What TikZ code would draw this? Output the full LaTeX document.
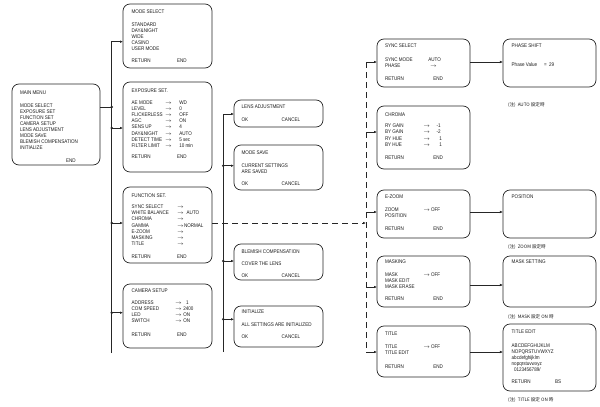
\documentclass[tikz,border=0pt]{standalone}
\usepackage{fontspec}
\newfontfamily\menufont[FakeStretch=0.86]{Liberation Sans}
\newfontfamily\jpfont{Noto Sans CJK JP}
\usetikzlibrary{arrows.meta}
\newcounter{tn}
\newcommand\mt[3]{\stepcounter{tn}\node[txt] (t\arabic{tn}) at (#1,#2) {#3};}
\newcommand\mnote[3]{\stepcounter{tn}\node[note] (t\arabic{tn}) at (#1,#2) {#3};}
\newcommand\ra{$\rightarrow$}
\begin{document}
\begin{tikzpicture}[x=1pt,y=-1pt,
  box/.style={draw=black!85, line width=0.7pt, rounded corners=7pt, inner sep=0pt, outer sep=0pt, anchor=north west},
  txt/.style={anchor=base west, inner sep=0pt, outer sep=0pt, text=black!90, font=\menufont\fontsize{5.3}{6}\selectfont},
  note/.style={anchor=base west, inner sep=0pt, outer sep=0pt, text=black!90, font=\jpfont\fontsize{4.6}{6}\selectfont},
  ln/.style={line width=0.7pt, draw=black!85},
  arr/.style={ln, -{Latex[length=3pt,width=2.6pt]}},
  harr/.style={line width=1pt, draw=black!85, -{Latex[length=3.2pt,width=2.8pt]}},
  dsh/.style={line width=0.8pt, draw=black!85, dash pattern=on 6pt off 4pt},
  dotn/.style={circle, fill=black!85, inner sep=0pt, minimum size=2.8pt}]
\useasboundingbox (0,0) rectangle (600,407);

% ---------- boxes ----------
\node[box, minimum width=88pt, minimum height=81pt] (main) at (12,84) {};
\node[box, minimum width=89pt, minimum height=64pt] (msel) at (123,4) {};
\node[box, minimum width=89pt, minimum height=90pt] (exp) at (123,82) {};
\node[box, minimum width=89pt, minimum height=76pt] (func) at (123,187) {};
\node[box, minimum width=89pt, minimum height=64pt] (cam) at (123,284) {};
\node[box, minimum width=89pt, minimum height=27pt] (lens) at (234,100) {};
\node[box, minimum width=89pt, minimum height=45pt] (msave) at (234,145) {};
\node[box, minimum width=89pt, minimum height=36pt] (blem) at (234,244) {};
\node[box, minimum width=89pt, minimum height=41pt] (init) at (234,306) {};
\node[box, minimum width=93pt, minimum height=48pt] (sync) at (377,39) {};
\node[box, minimum width=93pt, minimum height=48pt] (phase) at (503,39) {};
\node[box, minimum width=93pt, minimum height=63pt] (chroma) at (377,106) {};
\node[box, minimum width=93pt, minimum height=48pt] (ezoom) at (377,190) {};
\node[box, minimum width=93pt, minimum height=48pt] (pos) at (503,190) {};
\node[box, minimum width=93pt, minimum height=51pt] (mask) at (377,256) {};
\node[box, minimum width=93pt, minimum height=51pt] (mset) at (503,256) {};
\node[box, minimum width=93pt, minimum height=51pt] (title) at (377,326) {};
\node[box, minimum width=93pt, minimum height=67pt] (tedit) at (503,324) {};

% ---------- MAIN MENU ----------
\mt{20}{94}{MAIN MENU}
\mt{20}{107}{MODE SELECT}
\mt{20}{113.1}{EXPOSURE SET}
\mt{20}{119.2}{FUNCTION SET}
\mt{20}{125.3}{CAMERA SETUP}
\mt{20}{131.4}{LENS ADJUSTMENT}
\mt{20}{137.5}{MODE SAVE}
\mt{20}{143.6}{BLEMISH COMPENSATION}
\mt{20}{149.7}{INITIALIZE}
\mt{66}{162}{END}

% ---------- MODE SELECT ----------
\mt{131.7}{13}{MODE SELECT}
\mt{131.7}{26}{STANDARD}
\mt{131.7}{32.1}{DAY\&NIGHT}
\mt{131.7}{38.2}{WIDE}
\mt{131.7}{44.3}{CASINO}
\mt{131.7}{50.4}{USER MODE}
\mt{131.7}{62.7}{RETURN}
\mt{177}{62.7}{END}

% ---------- EXPOSURE SET ----------
\mt{131.7}{92}{EXPOSURE SET.}
\mt{131.7}{104}{AE MODE}      \mt{165}{104}{\ra}   \mt{179.3}{104}{WD}
\mt{131.7}{110.2}{LEVEL}      \mt{165}{110.2}{\ra} \mt{179.3}{110.2}{0}
\mt{131.7}{116.4}{FLICKERLESS}\mt{165}{116.4}{\ra} \mt{179.3}{116.4}{OFF}
\mt{131.7}{122.6}{AGC}        \mt{165}{122.6}{\ra} \mt{179.3}{122.6}{ON}
\mt{131.7}{128.8}{SENS UP}    \mt{165}{128.8}{\ra} \mt{179.3}{128.8}{4}
\mt{131.7}{135}{DAY\&NIGHT}   \mt{165}{135}{\ra}   \mt{179.3}{135}{AUTO}
\mt{131.7}{141.2}{DETECT TIME}\mt{165}{141.2}{\ra} \mt{179.3}{141.2}{5 sec}
\mt{131.7}{147.4}{FILTER LIMIT}\mt{165}{147.4}{\ra}\mt{179.3}{147.4}{10 min}
\mt{131.7}{158.7}{RETURN}
\mt{177}{158.7}{END}

% ---------- FUNCTION SET ----------
\mt{131.7}{197}{FUNCTION SET.}
\mt{131.7}{208.7}{SYNC SELECT}   \mt{177}{208.7}{\ra}
\mt{131.7}{214.8}{WHITE BALANCE} \mt{177}{214.8}{\ra} \mt{186.7}{214.8}{AUTO}
\mt{131.7}{220.9}{CHROMA}        \mt{177}{220.9}{\ra}
\mt{131.7}{227}{GAMMA}           \mt{177}{227}{\ra}   \mt{184}{227}{NORMAL}
\mt{131.7}{233.1}{E-ZOOM}        \mt{177}{233.1}{\ra}
\mt{131.7}{239.2}{MASKING}       \mt{177}{239.2}{\ra}
\mt{131.7}{245.3}{TITLE}         \mt{177}{245.3}{\ra}
\mt{131.7}{258.7}{RETURN}
\mt{177}{258.7}{END}

% ---------- CAMERA SETUP ----------
\mt{131.7}{292.7}{CAMERA SETUP}
\mt{131.7}{304.7}{ADDRESS}   \mt{175}{304.7}{\ra} \mt{186}{304.7}{1}
\mt{131.7}{310.6}{COM SPEED} \mt{175}{310.6}{\ra} \mt{183.3}{310.6}{2400}
\mt{131.7}{316.5}{LED}       \mt{175}{316.5}{\ra} \mt{183.3}{316.5}{ON}
\mt{131.7}{322.4}{SWITCH}    \mt{175}{322.4}{\ra} \mt{183.3}{322.4}{ON}
\mt{131.7}{336.4}{RETURN}
\mt{177}{336.4}{END}

% ---------- LENS / MODE SAVE / BLEMISH / INITIALIZE ----------
\mt{241.7}{108}{LENS ADJUSTMENT}
\mt{241.7}{121.4}{OK} \mt{281.7}{121.4}{CANCEL}
\mt{241.7}{154.7}{MODE SAVE}
\mt{241.7}{167}{CURRENT SETTINGS}
\mt{241.7}{173}{ARE SAVED}
\mt{241.7}{185.4}{OK} \mt{281.7}{185.4}{CANCEL}
\mt{241.7}{253}{BLEMISH COMPENSATION}
\mt{241.7}{265.4}{COVER THE LENS}
\mt{241.7}{277}{OK} \mt{281.7}{277}{CANCEL}
\mt{241.7}{313.7}{INITIALIZE}
\mt{241.7}{326.4}{ALL SETTINGS ARE INITIALIZED}
\mt{241.7}{338}{OK} \mt{281.7}{338}{CANCEL}

% ---------- SYNC SELECT / PHASE SHIFT ----------
\mt{385}{47.7}{SYNC SELECT}
\mt{385}{61}{SYNC MODE} \mt{428.3}{61}{AUTO}
\mt{385}{67}{PHASE}     \mt{430}{67}{\ra}
\mt{385}{80.4}{RETURN}  \mt{433.3}{80.4}{END}
\mt{511.7}{47.7}{PHASE SHIFT}
\mt{511.7}{66.4}{Phase Value} \mt{544}{66.4}{=} \mt{549}{66.4}{29}
\mnote{508}{106}{(注)\ \ AUTO 設定時}

% ---------- CHROMA ----------
\mt{385}{116.4}{CHROMA}
\mt{385}{127.7}{RY GAIN} \mt{423.3}{127.7}{\ra} \mt{436.7}{127.7}{-1}
\mt{385}{133.9}{BY GAIN} \mt{423.3}{133.9}{\ra} \mt{436.7}{133.9}{-2}
\mt{385}{140.1}{RY HUE}  \mt{423.3}{140.1}{\ra} \mt{439.3}{140.1}{1}
\mt{385}{146.3}{BY HUE}  \mt{423.3}{146.3}{\ra} \mt{439.3}{146.3}{1}
\mt{385}{159.7}{RETURN}  \mt{433.3}{159.7}{END}

% ---------- E-ZOOM / POSITION ----------
\mt{385}{198.7}{E-ZOOM}
\mt{385}{211.4}{ZOOM} \mt{423.3}{211.4}{\ra} \mt{431}{211.4}{OFF}
\mt{385}{217.5}{POSITION}
\mt{385}{230.4}{RETURN} \mt{433.3}{230.4}{END}
\mt{511.7}{198.7}{POSITION}
\mnote{508}{248}{(注)\ \ ZOOM 設定時}

% ---------- MASKING / MASK SETTING ----------
\mt{385}{263.7}{MASKING}
\mt{385}{276.4}{MASK} \mt{423.3}{276.4}{\ra} \mt{431}{276.4}{OFF}
\mt{385}{282.5}{MASK EDIT}
\mt{385}{288.6}{MASK ERASE}
\mt{385}{300.4}{RETURN} \mt{433.3}{300.4}{END}
\mt{511.7}{263.7}{MASK SETTING}
\mnote{508}{318.5}{(注)\ \ MASK 設定 ON 時}

% ---------- TITLE / TITLE EDIT ----------
\mt{385}{335}{TITLE}
\mt{385}{348}{TITLE} \mt{423.3}{348}{\ra} \mt{431}{348}{OFF}
\mt{385}{354}{TITLE EDIT}
\mt{385}{368.7}{RETURN} \mt{433.3}{368.7}{END}
\mt{511.7}{333.7}{TITLE EDIT}
\mt{511.7}{347}{ABCDEFGHIJKLM}
\mt{511.7}{353}{NOPQRSTUVWXYZ}
\mt{511.7}{359}{abcdefghijklm}
\mt{511.7}{365}{nopqrstuvwxyz}
\mt{514}{371}{0123456789/}
\mt{511.7}{383.7}{RETURN} \mt{555}{383.7}{BS}
\mnote{508}{401}{(注)\ \ TITLE 設定 ON 時}

% ---------- connectors: first column ----------
\coordinate (v1top) at (111.7,41.7);
\coordinate (v1bot) at (111.7,353);
\draw[arr] (v1bot) -- (v1top) -- (v1top -| msel.west);
\coordinate (j0) at (111.7,107);
\draw[ln] (j0 -| main.east) -- (j0);
\node[dotn] (d0) at (j0) {};
\coordinate (j1) at (111.7,128);
\draw[arr] (j1) -- (j1 -| exp.west);
\node[dotn] (d1) at (j1) {};
\coordinate (j2) at (111.7,223);
\draw[arr] (j2) -- (j2 -| func.west);
\node[dotn] (d2) at (j2) {};
\coordinate (j3) at (111.7,312.7);
\draw[arr] (j3) -- (j3 -| cam.west);
\node[dotn] (d3) at (j3) {};

% ---------- connectors: second column ----------
\coordinate (v2top) at (223.3,114);
\coordinate (v2bot) at (223.3,352);
\draw[arr] (v2bot) -- (v2top) -- (v2top -| lens.west);
\coordinate (k1) at (223.3,165.7);
\draw[arr] (k1) -- (k1 -| msave.west);
\node[dotn] (e1) at (k1) {};
\coordinate (k2) at (223.3,261);
\draw[arr] (k2) -- (k2 -| blem.west);
\node[dotn] (e2) at (k2) {};
\coordinate (k3) at (223.3,319.3);
\draw[arr] (k3) -- (k3 -| init.west);
\node[dotn] (e3) at (k3) {};

% ---------- dashed link to function sub-menus ----------
\coordinate (fd) at (366,223);
\draw[dsh, -{Latex[length=3pt,width=2.6pt]}] (fd -| func.east) -- (fd);
\coordinate (v3top) at (366,62);
\coordinate (v3bot) at (366,352);
\draw[dsh] (v3top) -- (v3bot);
\coordinate (m1) at (366,62);
\coordinate (m2) at (366,132);
\coordinate (m3) at (366,212);
\coordinate (m4) at (366,287);
\coordinate (m5) at (366,352);
\draw[arr] (m1) -- (m1 -| sync.west);
\draw[arr] (m2) -- (m2 -| chroma.west);
\draw[arr] (m3) -- (m3 -| ezoom.west);
\draw[arr] (m4) -- (m4 -| mask.west);
\draw[arr] (m5) -- (m5 -| title.west);

% ---------- right column arrows ----------
\coordinate (r1) at (486,62);
\coordinate (r2) at (486,212);
\coordinate (r3) at (486,285);
\coordinate (r4) at (486,352);
\draw[harr] (r1 -| sync.east) -- (r1 -| phase.west);
\draw[harr] (r2 -| ezoom.east) -- (r2 -| pos.west);
\draw[harr] (r3 -| mask.east) -- (r3 -| mset.west);
\draw[harr] (r4 -| title.east) -- (r4 -| tedit.west);
\end{tikzpicture}
\end{document}
